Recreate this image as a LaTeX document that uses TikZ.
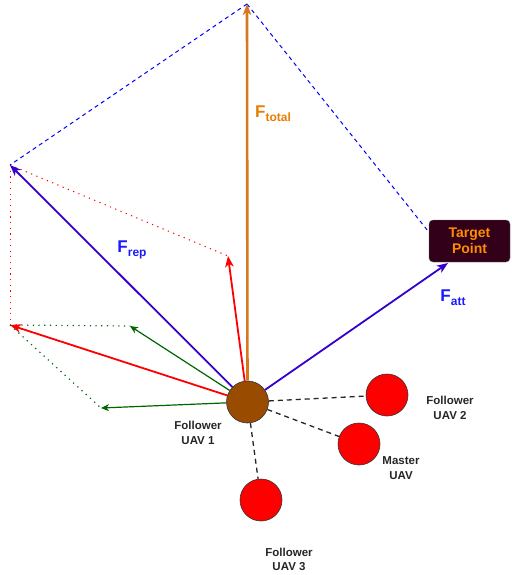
\documentclass[tikz,border=0pt]{standalone}
\usepackage{fontspec}
\setmainfont{Liberation Sans}
\usetikzlibrary{arrows.meta}
\definecolor{fblue}{RGB}{51,0,204}
\definecolor{dblue}{RGB}{0,0,255}
\definecolor{lblue}{RGB}{26,26,255}
\definecolor{forange}{RGB}{214,120,30}
\definecolor{torange}{RGB}{232,125,0}
\definecolor{porange}{RGB}{255,140,0}
\definecolor{tfill}{RGB}{51,0,26}
\definecolor{fgreen}{RGB}{0,100,0}
\definecolor{fred}{RGB}{255,0,0}
\definecolor{fbrown}{RGB}{153,76,0}
\newcommand\Flab[1]{{\fontsize{17}{17}\selectfont F}\raisebox{-4pt}{\fontsize{12}{12}\selectfont #1}}
\begin{document}
\begin{tikzpicture}[x=1pt,y=-1pt,
  uav/.style={circle,draw=black!80,line width=0.6pt,minimum size=42pt,inner sep=0pt},
  lbl/.style={font=\fontsize{11.5}{14.5}\selectfont\bfseries,align=center,text=black!85},
  flab/.style={font=\bfseries,inner sep=0pt},
  vec/.style={-{Stealth[length=11pt,width=8.5pt,inset=3pt]}},
  gvec/.style={-{Stealth[length=8pt,width=7pt,inset=2.5pt]},fgreen,line width=1.2pt},
  bdash/.style={dblue,line width=1pt,dash pattern=on 4pt off 3.5pt},
  kdash/.style={black!85,line width=1.3pt,dash pattern=on 5pt off 4pt},
  rdot/.style={fred,line width=1pt,dash pattern=on 1.2pt off 4.5pt},
  gdot/.style={fgreen,line width=1.2pt,dash pattern=on 1.2pt off 4.5pt}]
\useasboundingbox (0,0) rectangle (511,575);

% points
\coordinate (P) at (247,4);
\coordinate (R) at (10,165);
\coordinate (Rs) at (228,256);
\coordinate (Rl) at (10,325);
\coordinate (G1) at (130,326);
\coordinate (G2) at (101,408);
\coordinate (tA) at (428,231);
\coordinate (tF) at (448,263);

% nodes
\node[uav,fill=fbrown] (u1) at (247.5,402) {};
\node[uav,fill=fred] (u2) at (387,395) {};
\node[uav,fill=fred] (m) at (359,444) {};
\node[uav,fill=fred] (u3) at (261,500) {};
\node[draw=black!60,fill=tfill,rounded corners=4pt,minimum width=81pt,minimum height=42pt,
  text=porange,font=\fontsize{14}{16}\selectfont\bfseries,align=center] (target) at (469.5,241) {Target\\Point};

\node[lbl] (l1) at (198,433) {Follower\\UAV 1};
\node[lbl] (l2) at (450,408) {Follower\\UAV 2};
\node[lbl] (lm) at (401,468) {Master\\UAV};
\node[lbl] (l3) at (289,559.5) {Follower\\UAV 3};

% dashed/dotted construction lines
\draw[bdash] (P) -- (R);
\draw[bdash] (P) -- (tA);
\draw[rdot] (R) -- (Rs);
\draw[rdot] (R) -- (Rl);
\draw[gdot] (Rl) -- (G1);
\draw[gdot] (Rl) -- (G2);

% links between UAVs
\draw[kdash] (u1) -- (u2);
\draw[kdash] (u1) -- (m);
\draw[kdash] (u1) -- (u3);

% vectors
\draw[gvec] (u1) -- (G1);
\draw[gvec] (u1) -- (G2);
\draw[vec,fred,line width=1.8pt] (u1) -- (Rl);
\draw[vec,fred,line width=1.8pt] (u1) -- (Rs);
\draw[vec,fblue,line width=1.8pt] (u1) -- (R);
\draw[vec,fblue,line width=1.8pt] (u1) -- (tF);
\draw[vec,forange,line width=2.6pt] (u1) -- (P);

% labels
\node[flab,text=torange] (ft) at (273,114) {\Flab{total}};
\node[flab,text=lblue] (fr) at (132,250) {\Flab{rep}};
\node[flab,text=lblue] (fa) at (453,298) {\Flab{att}};
\end{tikzpicture}
\end{document}
